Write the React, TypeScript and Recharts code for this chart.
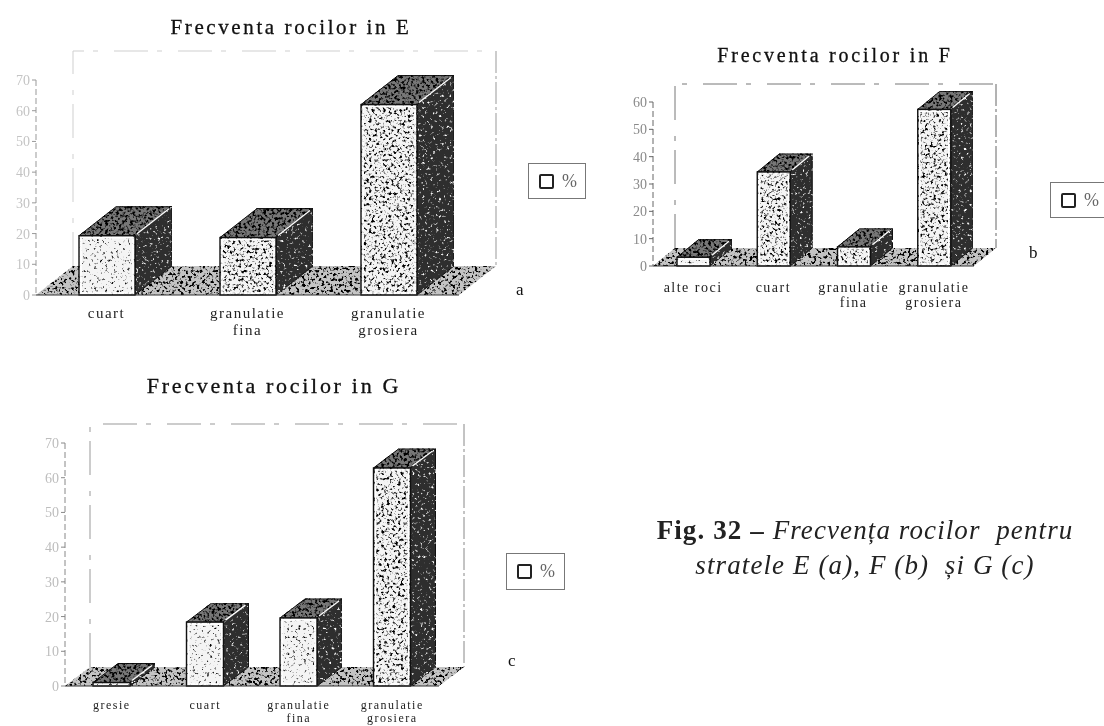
import { BarChart, Bar, XAxis, YAxis, ReferenceArea } from 'recharts';

const SERIF = '"Liberation Serif", serif';

const categoriesE = ['cuart', 'granulatie fina', 'granulatie grosiera'];
const valuesE = [19.3, 18.7, 62];
const ticksE = [0, 10, 20, 30, 40, 50, 60, 70];

const categoriesF = ['alte roci', 'cuart', 'granulatie fina', 'granulatie grosiera'];
const valuesF = [3.2, 34.4, 7, 57.3];
const ticksF = [0, 10, 20, 30, 40, 50, 60];

const categoriesG = ['gresie', 'cuart', 'granulatie fina', 'granulatie grosiera'];
const valuesG = [1, 18.4, 19.6, 62.8];
const ticksG = [0, 10, 20, 30, 40, 50, 60, 70];

const toTable = (cats: string[], vals: number[]) => cats.map((name, i) => ({ name, value: vals[i] }));

// turbulence thresholded into flecks, gives the photocopied look of the scan
function Speck({ id, color, threshold, k = 5 }: { id: string; color: string; threshold: number; k?: number }) {
  const rgb = color === 'white' ? '0 0 0 0 1  0 0 0 0 1  0 0 0 0 1' : '0 0 0 0 0  0 0 0 0 0  0 0 0 0 0';
  return (
    <filter id={id} x="0" y="0" width="1" height="1" colorInterpolationFilters="sRGB">
      <feTurbulence type="fractalNoise" baseFrequency="0.36" numOctaves={2} seed={7} result="n" />
      <feColorMatrix in="n" type="matrix" values={`${rgb}  ${k} 0 0 0 ${-k * threshold}`} result="f" />
      <feComposite in="f" in2="SourceAlpha" operator="in" result="c" />
      <feMerge>
        <feMergeNode in="SourceGraphic" />
        <feMergeNode in="c" />
      </feMerge>
    </filter>
  );
}

interface PanelProps {
  title: string;
  titleX: number;
  titleY: number;
  titleSize: number;
  titleSpacing: number;
  cats: string[];
  vals: number[];
  ticks: number[];
  tones: string[];
  plotLeft: number;
  plotRight: number;
  plotTop: number;
  plotBase: number;
  barSize: number;
  dx: number;
  dy: number;
  labelSize: number;
  labelGap: number;
  lineGap: number;
  tickColor: string;
  axisColor: string;
  wallColor: string;
}

function Panel(p: PanelProps) {
  const yAxisW = 36;
  const top = 40;
  const xAxisH = 56;
  const right = 50;
  const plotW = p.plotRight - p.plotLeft;
  const plotH = p.plotBase - p.plotTop;

  const Box3D = (s: any) => {
    const { x, y, width: w, height: h, index } = s;
    const { dx, dy } = p;
    return (
      <g>
        <polygon points={`${x},${y} ${x + dx},${y - dy} ${x + w + dx},${y - dy} ${x + w},${y}`} fill="#777" stroke="#111" filter="url(#speck-top)" />
        <polygon points={`${x + w},${y} ${x + w + dx},${y - dy} ${x + w + dx},${y + h - dy} ${x + w},${y + h}`} fill="#2e2e2e" stroke="#111" filter="url(#speck-side)" />
        <line x1={x + w + 2} y1={y - 2} x2={x + w + dx - 3} y2={y - dy + 2} stroke="#fff" strokeWidth={1.3} />
        <rect x={x} y={y} width={w} height={h} fill="#f4f4f4" filter={`url(#${p.tones[index]})`} />
        {h > 6 && <rect x={x + 2} y={y + 2} width={w - 4} height={h - 4} fill="none" stroke="#fff" strokeWidth={1.5} />}
        <rect x={x} y={y} width={w} height={h} fill="none" stroke="#111" strokeWidth={1.4} />
      </g>
    );
  };

  const Frame = (s: any) => {
    const { x, y, width: w, height: h } = s;
    const { dx, dy } = p;
    const base = y + h;
    return (
      <g>
        <polyline points={`${x + dx},${base - dy} ${x + dx},${y - dy} ${x + w + dx},${y - dy}`} fill="none" stroke={p.wallColor} strokeDasharray="34 9 5 16" />
        <line x1={x + w + dx} y1={y - dy} x2={x + w + dx} y2={base - dy} stroke={p.axisColor} strokeDasharray="22 3 3 3" />
        <polygon points={`${x},${base} ${x + w},${base} ${x + w + dx},${base - dy} ${x + dx},${base - dy}`} fill="#c4c4c4" filter="url(#speck-floor)" />
      </g>
    );
  };

  const CatTick = ({ x, y, payload }: any) => {
    const label: string = payload.value;
    const lines = label.startsWith('granulatie') ? label.split(' ') : [label];
    return (
      <text x={x} y={y + p.labelGap} textAnchor="middle" fontFamily={SERIF} fontSize={p.labelSize} fill="#222" letterSpacing={1.5}>
        {lines.map((l, i) => (
          <tspan key={l} x={x} dy={i === 0 ? 0 : p.lineGap}>{l}</tspan>
        ))}
      </text>
    );
  };

  return (
    <>
      <div style={{ position: 'absolute', left: p.titleX - 200, width: 400, top: p.titleY, textAlign: 'center', fontFamily: SERIF, fontSize: p.titleSize, letterSpacing: p.titleSpacing, color: '#111', WebkitTextStroke: '0.3px #111', whiteSpace: 'nowrap' }}>
        {p.title}
      </div>
      <div style={{ position: 'absolute', left: p.plotLeft - yAxisW, top: p.plotTop - top }}>
        <BarChart
          width={yAxisW + plotW + right}
          height={top + plotH + xAxisH}
          data={toTable(p.cats, p.vals)}
          margin={{ top, right, bottom: 0, left: 0 }}
        >
          <XAxis dataKey="name" height={xAxisH} interval={0} axisLine={{ stroke: '#333' }} tickLine={false} tick={CatTick} />
          <YAxis
            width={yAxisW}
            domain={[0, p.ticks[p.ticks.length - 1]]}
            ticks={p.ticks}
            interval={0}
            tickSize={4}
            axisLine={{ stroke: p.axisColor, strokeDasharray: '6 3' }}
            tickLine={{ stroke: p.axisColor }}
            tick={{ fill: p.tickColor, fontFamily: SERIF, fontSize: 14 }}
          />
          <ReferenceArea y1={0} y2={p.ticks[p.ticks.length - 1]} shape={Frame} ifOverflow="visible" />
          <Bar dataKey="value" barSize={p.barSize} shape={Box3D} isAnimationActive={false} />
        </BarChart>
      </div>
    </>
  );
}

function LegendBox({ left, top, width, height }: { left: number; top: number; width: number; height: number }) {
  return (
    <div style={{ position: 'absolute', left, top, width, height, border: '1px solid #777', boxSizing: 'border-box', display: 'flex', alignItems: 'center', paddingLeft: 10, fontFamily: SERIF, fontSize: 18, color: '#666' }}>
      <span style={{ display: 'inline-block', width: 11, height: 11, border: '2px solid #222', borderRadius: 2, marginRight: 8, flex: 'none' }} />
      %
    </div>
  );
}

const mark = (left: number, top: number, text: string) => (
  <div style={{ position: 'absolute', left, top, fontFamily: SERIF, fontSize: 17, color: '#111' }}>{text}</div>
);

export default function App() {
  return (
    <div style={{ position: 'absolute', left: 0, top: 0, width: 1104, height: 726, overflow: 'hidden', background: '#fff', filter: 'blur(0.7px)' }}>
      <svg width={0} height={0} style={{ position: 'absolute' }}>
        <defs>
          <Speck id="speck-pale" color="black" threshold={0.6} />
          <Speck id="speck-mid" color="black" threshold={0.52} />
          <Speck id="speck-top" color="black" threshold={0.47} />
          <Speck id="speck-floor" color="black" threshold={0.52} k={7} />
          <Speck id="speck-side" color="white" threshold={0.6} />
        </defs>
      </svg>

      <Panel
        title="Frecventa rocilor in E" titleX={291} titleY={15} titleSize={21} titleSpacing={2.6}
        cats={categoriesE} vals={valuesE} ticks={ticksE} tones={['speck-pale', 'speck-mid', 'speck-mid']}
        plotLeft={36} plotRight={459} plotTop={80} plotBase={295} barSize={56} dx={37} dy={29}
        labelSize={15} labelGap={15} lineGap={17} tickColor="#c4c4c4" axisColor="#999" wallColor="#cfcfcf"
      />
      <LegendBox left={528} top={163} width={58} height={36} />
      {mark(516, 280, 'a')}

      <Panel
        title="Frecventa rocilor in F" titleX={835} titleY={44} titleSize={20} titleSpacing={2.8}
        cats={categoriesF} vals={valuesF} ticks={ticksF} tones={['speck-pale', 'speck-mid', 'speck-mid', 'speck-mid']}
        plotLeft={653} plotRight={974} plotTop={102} plotBase={266} barSize={33} dx={22} dy={18}
        labelSize={14} labelGap={18} lineGap={15} tickColor="#8a8a8a" axisColor="#666" wallColor="#777"
      />
      <LegendBox left={1050} top={182} width={60} height={36} />
      {mark(1029, 243, 'b')}

      <Panel
        title="Frecventa rocilor in G" titleX={274} titleY={373} titleSize={22} titleSpacing={2.7}
        cats={categoriesG} vals={valuesG} ticks={ticksG} tones={['speck-pale', 'speck-pale', 'speck-pale', 'speck-mid']}
        plotLeft={65} plotRight={439} plotTop={443} plotBase={686} barSize={37} dx={25} dy={19}
        labelSize={12} labelGap={15} lineGap={13} tickColor="#bdbdbd" axisColor="#888" wallColor="#999"
      />
      <LegendBox left={506} top={553} width={59} height={37} />
      {mark(508, 651, 'c')}

      <div style={{ position: 'absolute', left: 600, width: 530, top: 513, textAlign: 'center', fontFamily: SERIF, fontSize: 27, letterSpacing: 1.1, lineHeight: '35px', color: '#222', whiteSpace: 'nowrap' }}>
        <b style={{ fontWeight: 700 }}>Fig. 32 – </b><i>Frecvența rocilor&nbsp; pentru</i>
        <br />
        <i>stratele E (a), F (b)&nbsp; și G (c)</i>
      </div>
    </div>
  );
}
